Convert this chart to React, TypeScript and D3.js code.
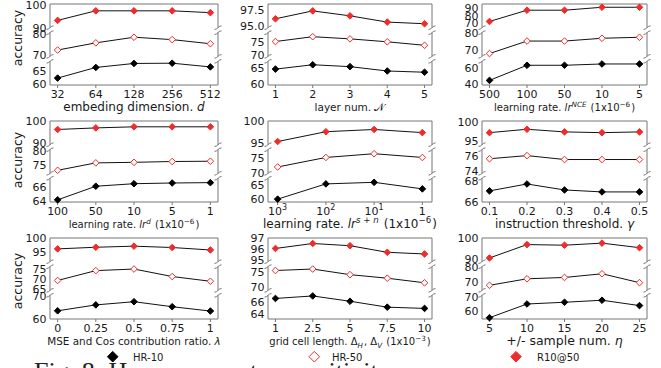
import React from "react";
import * as d3 from "d3";

// ---------- data ----------
const CATS_EMB = ["32", "64", "128", "256", "512"];
const HR10_EMB = [62.3, 66.3, 67.8, 67.9, 66.5];
const HR50_EMB = [72.4, 75.7, 78.3, 77.2, 75.3];
const R1050_EMB = [93.2, 97.4, 97.4, 97.4, 96.6];

const CATS_LAYER = ["1", "2", "3", "4", "5"];
const HR10_LAYER = [64.8, 66.2, 65.6, 64.2, 63.8];
const HR50_LAYER = [75.1, 76.9, 76.1, 75.0, 73.7];
const R1050_LAYER = [96.15, 97.35, 96.6, 95.65, 95.4];

const CATS_NCE = ["500", "100", "50", "10", "5"];
const HR10_NCE = [44.6, 63.75, 63.75, 65.4, 65.4];
const HR50_NCE = [67.7, 75.3, 75.3, 77.0, 77.6];
const R1050_NCE = [72.4, 87.6, 87.6, 91.6, 91.6];

const CATS_LRD = ["100", "50", "10", "5", "1"];
const HR10_LRD = [64.2, 66.1, 66.45, 66.55, 66.6];
const HR50_LRD = [72.9, 75.6, 75.8, 76.1, 76.2];
const R1050_LRD = [96.2, 96.9, 97.4, 97.4, 97.4];

const CATS_LRSN = ["10^3", "10^2", "10^1", "1"];
const HR10_LRSN = [60.1, 65.45, 66.0, 63.7];
const HR50_LRSN = [72.0, 75.3, 76.6, 75.3];
const R1050_LRSN = [95.4, 97.6, 98.1, 97.4];

const CATS_GAMMA = ["0.1", "0.2", "0.3", "0.4", "0.5"];
const HR10_GAMMA = [67.08, 67.75, 67.17, 66.98, 66.98];
const HR50_GAMMA = [75.6, 76.0, 75.5, 75.5, 75.5];
const R1050_GAMMA = [97.1, 98.0, 97.3, 97.1, 97.3];

const CATS_LAMBDA = ["0", "0.25", "0.5", "0.75", "1"];
const HR10_LAMBDA = [63.5, 66.1, 67.5, 65.3, 63.4];
const HR50_LAMBDA = [69.2, 74.2, 75.0, 71.2, 68.8];
const R1050_LAMBDA = [96.0, 96.6, 97.0, 96.5, 95.6];

const CATS_GRID = ["1", "2.5", "5", "7.5", "10"];
const HR10_GRID = [66.5, 66.9, 66.05, 65.1, 64.9];
const HR50_GRID = [75.6, 76.1, 74.2, 73.0, 71.45];
const R1050_GRID = [96.05, 96.5, 96.3, 95.7, 95.55];

const CATS_ETA = ["5", "10", "15", "20", "25"];
const HR10_ETA = [55.7, 65.2, 66.4, 67.8, 64.1];
const HR50_ETA = [67.8, 72.2, 73.1, 75.6, 69.6];
const R1050_ETA = [90.5, 97.0, 96.7, 97.7, 95.5];

// broken-axis segments (top, middle, bottom): domain + tick labels
const SEGS_EMB = [
  { domain: [90, 100.4], ticks: [90, 100] },
  { domain: [69.5, 80.4], ticks: [70, 80] },
  { domain: [59.7, 68.6], ticks: [60, 65] },
];
const SEGS_LAYER = [
  { domain: [94.8, 98.4], ticks: [95, 97.5], dec: 1 },
  { domain: [69.6, 78.4], ticks: [70, 75] },
  { domain: [59.7, 67.3], ticks: [60, 65] },
];
const SEGS_NCE = [
  { domain: [64, 96], ticks: [70, 80, 90] },
  { domain: [66, 80.4], ticks: [70, 80] },
  { domain: [38.75, 68.75], ticks: [40, 60] },
];
const SEGS_LRD = [
  { domain: [89.4, 100], ticks: [90, 100] },
  { domain: [71.8, 80.4], ticks: [75, 80] },
  { domain: [63.9, 67.2], ticks: [64, 66] },
];
const SEGS_LRSN = [
  { domain: [94.7, 100], ticks: [95, 100] },
  { domain: [69.8, 78], ticks: [70, 75] },
  { domain: [59.1, 67.4], ticks: [60, 65] },
];
const SEGS_GAMMA = [
  { domain: [93.9, 100.2], ticks: [95, 100] },
  { domain: [73.75, 76.75], ticks: [74, 76] },
  { domain: [66, 68.3], ticks: [66, 68] },
];
const SEGS_LAMBDA = [
  { domain: [91.3, 100], ticks: [95, 100] },
  { domain: [64.2, 76.2], ticks: [65, 70, 75] },
  { domain: [59.9, 70.3], ticks: [60, 70] },
];
const SEGS_GRID = [
  { domain: [94.85, 97], ticks: [95, 96, 97] },
  { domain: [68.9, 76.9], ticks: [70, 75] },
  { domain: [63.2, 67], ticks: [64, 66] },
];
const SEGS_ETA = [
  { domain: [88.7, 100.2], ticks: [90, 100] },
  { domain: [64.4, 80.4], ticks: [70, 80] },
  { domain: [54.8, 71.2], ticks: [60, 70] },
];

const LEGEND = ["HR-10", "HR-50", "R10@50"];

// ---------- styling / layout ----------
const FONT = "DejaVu Sans, Verdana, sans-serif";
const RED = "#ee2c2c";
const SPINE = "#777";
const TEXT = "#1a1a1a";
const COLS = [
  { x: 50, w: 168 },
  { x: 268, w: 164 },
  { x: 482, w: 165 },
];
const ROWS = [4, 121, 238];
const PH = 81;
const GAP = 5;
const SH = (PH - 2 * GAP) / 3;

const sup = (t: string, size: number, italic = false, key = "s") => [
  <tspan key={key + "a"} dy={-size * 0.38} fontSize={size * 0.72} fontStyle={italic ? "italic" : "normal"}>
    {t}
  </tspan>,
  <tspan key={key + "b"} dy={size * 0.38} fontSize={size}>
    {"\u200A"}
  </tspan>,
];
const sub = (t: string, size: number, key = "b") => [
  <tspan key={key + "a"} dy={size * 0.25} fontSize={size * 0.72} fontStyle="italic">
    {t}
  </tspan>,
  <tspan key={key + "b"} dy={-size * 0.25} fontSize={size}>
    {"\u200A"}
  </tspan>,
];

const XLABELS: { size: number; render: (s: number) => any }[] = [
  { size: 12, render: () => ["embeding dimension. ", <tspan key="i" fontStyle="italic">d</tspan>] },
  { size: 10.5, render: () => ["layer num. ", <tspan key="i">𝒩</tspan>] },
  {
    size: 10,
    render: (s) => [
      "learning rate. ",
      <tspan key="lr" fontStyle="italic">lr</tspan>,
      ...sup("NCE", s, true, "n"),
      " (1x10",
      ...sup("\u22126", s, false, "e"),
      ")",
    ],
  },
  {
    size: 10,
    render: (s) => [
      "learning rate. ",
      <tspan key="lr" fontStyle="italic">lr</tspan>,
      ...sup("d", s, true, "n"),
      " (1x10",
      ...sup("\u22126", s, false, "e"),
      ")",
    ],
  },
  {
    size: 12,
    render: (s) => [
      "learning rate. ",
      <tspan key="lr" fontStyle="italic">lr</tspan>,
      ...sup("s + n", s, true, "n"),
      " (1x10",
      ...sup("\u22126", s, false, "e"),
      ")",
    ],
  },
  { size: 12, render: () => ["instruction threshold. ", <tspan key="i" fontStyle="italic">γ</tspan>] },
  { size: 10.4, render: () => ["MSE and Cos contribution ratio. ", <tspan key="i" fontStyle="italic">λ</tspan>] },
  {
    size: 10,
    render: (s) => [
      "grid cell length. Δ",
      ...sub("H", s, "h"),
      ", Δ",
      ...sub("V", s, "v"),
      " (1x10",
      ...sup("\u22123", s, false, "e"),
      ")",
    ],
  },
  { size: 12.5, render: () => ["+/- sample num. ", <tspan key="i" fontStyle="italic">η</tspan>] },
];

const PANELS = [
  { cats: CATS_EMB, hr10: HR10_EMB, hr50: HR50_EMB, r1050: R1050_EMB, segs: SEGS_EMB },
  { cats: CATS_LAYER, hr10: HR10_LAYER, hr50: HR50_LAYER, r1050: R1050_LAYER, segs: SEGS_LAYER },
  { cats: CATS_NCE, hr10: HR10_NCE, hr50: HR50_NCE, r1050: R1050_NCE, segs: SEGS_NCE },
  { cats: CATS_LRD, hr10: HR10_LRD, hr50: HR50_LRD, r1050: R1050_LRD, segs: SEGS_LRD },
  { cats: CATS_LRSN, hr10: HR10_LRSN, hr50: HR50_LRSN, r1050: R1050_LRSN, segs: SEGS_LRSN },
  { cats: CATS_GAMMA, hr10: HR10_GAMMA, hr50: HR50_GAMMA, r1050: R1050_GAMMA, segs: SEGS_GAMMA },
  { cats: CATS_LAMBDA, hr10: HR10_LAMBDA, hr50: HR50_LAMBDA, r1050: R1050_LAMBDA, segs: SEGS_LAMBDA },
  { cats: CATS_GRID, hr10: HR10_GRID, hr50: HR50_GRID, r1050: R1050_GRID, segs: SEGS_GRID },
  { cats: CATS_ETA, hr10: HR10_ETA, hr50: HR50_ETA, r1050: R1050_ETA, segs: SEGS_ETA },
];

const diamond = (cx: number, cy: number, r: number) =>
  `M${cx},${cy - r}L${cx + r},${cy}L${cx},${cy + r}L${cx - r},${cy}Z`;

function CatLabel({ c, x, y }: { c: string; x: number; y: number }) {
  if (c.startsWith("10^")) {
    return (
      <text x={x} y={y} textAnchor="middle" fontSize={11} fill={TEXT}>
        10
        <tspan dy={-4.5} fontSize={8}>
          {c.slice(3)}
        </tspan>
      </text>
    );
  }
  return (
    <text x={x} y={y} textAnchor="middle" fontSize={11} fill={TEXT}>
      {c}
    </text>
  );
}

function Panel({ idx }: { idx: number }) {
  const p = PANELS[idx];
  const col = idx % 3;
  const row = Math.floor(idx / 3);
  const { x, w } = COLS[col];
  const top = ROWS[row];
  const bottom = top + PH;
  const xs = d3.scalePoint<string>().domain(p.cats).range([x, x + w]).padding(0.2);
  const segTop = [0, 1, 2].map((i) => top + i * (SH + GAP));
  const ys = p.segs.map((s: any, i: number) =>
    d3.scaleLinear().domain(s.domain).range([segTop[i] + SH, segTop[i]])
  );
  const series = [
    { vals: p.r1050, seg: 0, fill: RED, stroke: RED },
    { vals: p.hr50, seg: 1, fill: "#fff", stroke: RED },
    { vals: p.hr10, seg: 2, fill: "#000", stroke: "#000" },
  ];
  const breaks: number[] = [segTop[0] + SH, segTop[1], segTop[1] + SH, segTop[2]];
  const xl = XLABELS[idx];
  return (
    <g>
      {segTop.map((t, i) => (
        <g key={"sp" + i} stroke={SPINE} strokeWidth={1} fill="none">
          <line x1={x} x2={x} y1={t} y2={t + SH} />
          <line x1={x + w} x2={x + w} y1={t} y2={t + SH} />
        </g>
      ))}
      <line x1={x} x2={x + w} y1={top} y2={top} stroke={SPINE} />
      <line x1={x} x2={x + w} y1={bottom} y2={bottom} stroke={SPINE} />
      {breaks.map((b, i) =>
        [x, x + w].map((bx, j) => (
          <path
            key={"br" + i + "_" + j}
            d={`M${bx - 3.5},${b + 1.8}C${bx - 1},${b + 2.2} ${bx + 1},${b - 2.2} ${bx + 3.5},${b - 1.8}`}
            stroke={SPINE}
            fill="none"
            strokeWidth={1}
          />
        ))
      )}
      {p.segs.map((s: any, i: number) =>
        s.ticks.map((t: number) => (
          <text
            key={"yt" + i + "_" + t}
            x={x - 3.5}
            y={ys[i](t) + 4}
            textAnchor="end"
            fontSize={11}
            fill={TEXT}
          >
            {s.dec ? t.toFixed(s.dec) : String(t)}
          </text>
        ))
      )}
      {p.cats.map((c: string) => (
        <g key={"xt" + c}>
          <line x1={xs(c)!} x2={xs(c)!} y1={bottom} y2={bottom + 3} stroke={SPINE} />
          <CatLabel c={c} x={xs(c)!} y={bottom + 12.8} />
        </g>
      ))}
      {series.map((s, si) => {
        const line = d3
          .line<number>()
          .x((_, i) => xs(p.cats[i])!)
          .y((v) => ys[s.seg](v));
        return (
          <g key={"s" + si}>
            <path d={line(s.vals) || ""} stroke="#111" strokeWidth={1} fill="none" />
            {s.vals.map((v: number, i: number) => (
              <path
                key={i}
                d={diamond(xs(p.cats[i])!, ys[s.seg](v), 3.3)}
                fill={s.fill}
                stroke={s.stroke}
                strokeWidth={1}
              />
            ))}
          </g>
        );
      })}
      <text x={x + w / 2} y={bottom + 26} textAnchor="middle" fontSize={xl.size} fill={TEXT}>
        {xl.render(xl.size)}
      </text>
    </g>
  );
}

export default function App() {
  const legendPos = [
    { mx: 112.7, tx: 133 },
    { mx: 314.3, tx: 332 },
    { mx: 516, tx: 537 },
  ];
  const legendStyle = [
    { fill: "#000", stroke: "#000" },
    { fill: "#fff", stroke: RED },
    { fill: RED, stroke: RED },
  ];
  return (
    <svg
      width={661}
      height={368}
      style={{ position: "absolute", left: 0, top: 0, background: "#fff" }}
      fontFamily={FONT}
    >
      <rect width={661} height={368} fill="#fff" />
      {PANELS.map((_, i) => (
        <Panel key={i} idx={i} />
      ))}
      {[38, 160, 281].map((cy, i) => (
        <text
          key={"yl" + i}
          transform={`translate(22,${cy}) rotate(-90)`}
          textAnchor="middle"
          fontSize={12.5}
          fill={TEXT}
        >
          accuracy
        </text>
      ))}
      {LEGEND.map((name, i) => (
        <g key={name}>
          <path
            d={diamond(legendPos[i].mx, 356.7, 5.3)}
            fill={legendStyle[i].fill}
            stroke={legendStyle[i].stroke}
            strokeWidth={1}
          />
          <text x={legendPos[i].tx} y={360.5} fontSize={10} fill={TEXT}>
            {name}
          </text>
        </g>
      ))}
      <text x={34} y={380} fontSize={26} fontFamily="Liberation Serif, serif" fill="#222">
        Fig. 8: Hyperparameter sensitivity
      </text>
    </svg>
  );
}
